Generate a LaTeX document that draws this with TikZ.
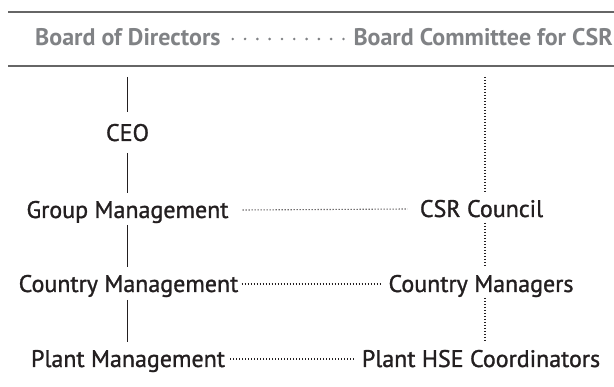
\documentclass[tikz,border=0pt]{standalone}
\usepackage{fontspec}
\setmainfont{PT Sans}
\newfontfamily\bodyfont[FakeBold=1.2]{PT Sans}
\definecolor{txt}{HTML}{231F20}
\definecolor{hdr}{HTML}{808285}
\definecolor{rule}{HTML}{666666}
\begin{document}
\begin{tikzpicture}[x=1pt,y=-1pt,
  lbl/.style={anchor=base,inner sep=0pt,text=txt,font=\bodyfont\fontsize{24}{27}\selectfont},
  hlbl/.style={anchor=base,inner sep=0pt,text=hdr,font=\fontsize{24}{27}\selectfont\bfseries},
  solidc/.style={draw=txt,line width=1pt},
  dotc/.style={draw=txt,line width=1.1pt,dash pattern=on 1pt off 2pt},
  hdots/.style={draw=hdr,line width=2.9pt,line cap=round,dash pattern=on 0pt off 12.3pt},
  hrule/.style={draw=rule,line width=1.2pt}]
\useasboundingbox (0,0) rectangle (614,387);
% header rules
\coordinate (r1a) at (8,12); \coordinate (r1b) at (614,12);
\coordinate (r2a) at (8,66); \coordinate (r2b) at (614,66);
\draw[hrule] (r1a) -- (r1b);
\draw[hrule] (r2a) -- (r2b);
% header
\node[hlbl,anchor=base west] (bod) at (35,46) {Board of Directors};
\node[hlbl,anchor=base east] (bcc) at (613,46) {Board Committee for CSR};
\draw[hdots] ([xshift=12pt,yshift=7pt]bod.base east) -- ([xshift=-8pt,yshift=7pt]bcc.base west);
% left column
\node[lbl] (ceo) at (127.5,141) {CEO};
\node[lbl] (gm) at (127.5,218) {Group Management};
\node[lbl] (cm) at (128.5,292) {Country Management};
\node[lbl] (pm) at (128,367) {Plant Management};
% right column
\node[lbl] (csr) at (481.5,217) {CSR Council};
\node[lbl] (cmg) at (481,292) {Country Managers};
\node[lbl] (phse) at (481,367) {Plant HSE Coordinators};
% vertical solid
\coordinate (topL) at (127,77);
\coordinate (topR) at (485,77);
\draw[solidc] (topL) -- ([yshift=29pt]ceo.base -| topL);
\draw[solidc] ([yshift=-12pt]ceo.base -| topL) -- ([yshift=25pt]gm.base -| topL);
\draw[solidc] ([yshift=-7pt]gm.base -| topL) -- ([yshift=25pt]cm.base -| topL);
\draw[solidc] ([yshift=-8pt]cm.base -| topL) -- ([yshift=25pt]pm.base -| topL);
% vertical dotted
\draw[dotc] (topR) -- ([yshift=24pt]csr.base -| topR);
\draw[dotc] ([yshift=-6pt]csr.base -| topR) -- ([yshift=25pt]cmg.base -| topR);
\draw[dotc] ([yshift=-6pt]cmg.base -| topR) -- ([yshift=25pt]phse.base -| topR);
% horizontal dotted
\draw[dotc] ([xshift=14pt,yshift=8pt]gm.base east) -- ([xshift=-12pt,yshift=8pt]csr.base west);
\draw[dotc] ([xshift=3pt,yshift=8pt]cm.base east) -- ([xshift=-6pt,yshift=8pt]cmg.base west);
\draw[dotc] ([xshift=5pt,yshift=8pt]pm.base east) -- ([xshift=-6pt,yshift=8pt]phse.base west);
\end{tikzpicture}
\end{document}
